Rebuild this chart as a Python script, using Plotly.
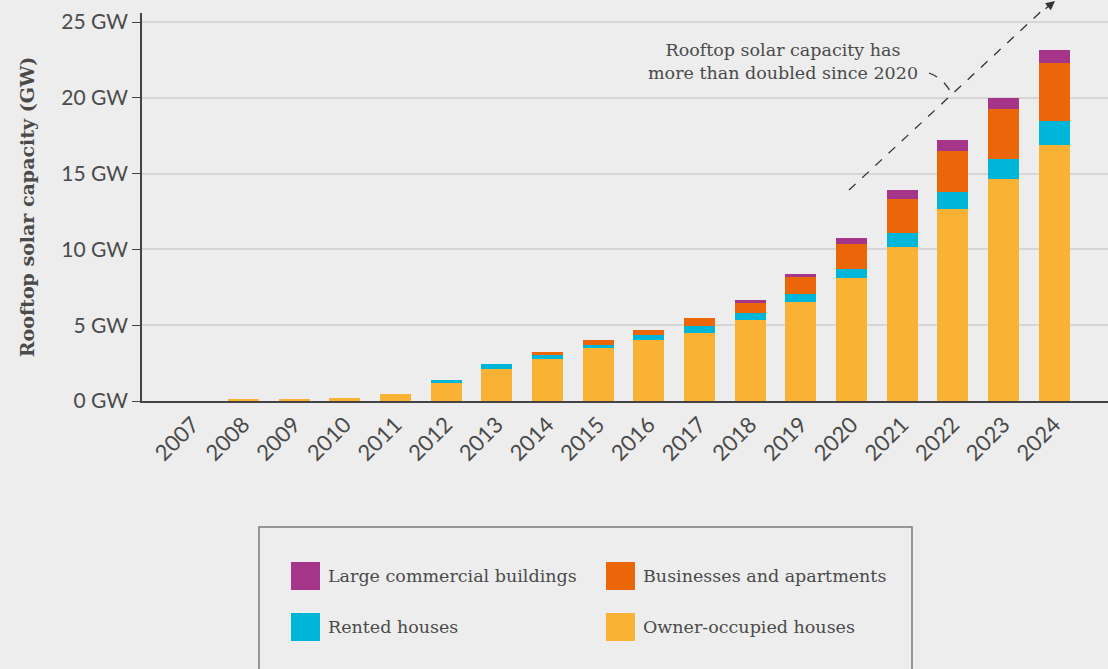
import plotly.graph_objects as go

years = [str(y) for y in range(2007, 2025)]
owner_occupied = [0.0, 0.07, 0.08, 0.20, 0.46, 1.19, 2.11, 2.77, 3.50, 4.02, 4.49, 5.34, 6.55, 8.11, 10.16, 12.66, 14.64, 16.89]
rented = [0, 0, 0, 0, 0, 0.20, 0.33, 0.33, 0.17, 0.31, 0.46, 0.46, 0.53, 0.60, 0.92, 1.15, 1.32, 1.58]
businesses = [0, 0, 0, 0, 0, 0, 0, 0.13, 0.35, 0.35, 0.52, 0.66, 1.10, 1.65, 2.24, 2.68, 3.30, 3.83]
large_commercial = [0, 0, 0, 0, 0, 0, 0, 0, 0, 0, 0, 0.20, 0.20, 0.39, 0.60, 0.73, 0.73, 0.85]

series_names = ["Owner-occupied houses", "Rented houses", "Businesses and apartments", "Large commercial buildings"]
series_values = [owner_occupied, rented, businesses, large_commercial]
series_colors = ["#F9B233", "#00B6D8", "#EB6608", "#A53589"]

y_ticks = [0, 5, 10, 15, 20, 25]
y_tick_labels = [f"{v} GW" for v in y_ticks]

annotation_text = "Rooftop solar capacity has<br>more than doubled since 2020"

BG = "#EDEDED"
TXT = "#4A4A4A"
SANS = "Lato, 'Open Sans', sans-serif"
SERIF = "'DejaVu Serif', serif"

# layout geometry (px)
W, H = 1108, 669
L, R, T, B = 142, 0, 13, 268
PW, PH = W - L - R, H - T - B


def px(x):
    return (x - L) / PW


def py(y):
    return (H - B - y) / PH


fig = go.Figure()
for name, vals, col in zip(series_names, series_values, series_colors):
    fig.add_trace(go.Bar(x=years, y=vals, name=name, marker=dict(color=col, line=dict(width=0)),
                         showlegend=False))

fig.update_layout(
    barmode="stack",
    bargap=0.39,
    width=W, height=H,
    margin=dict(l=L, r=R, t=T, b=B, pad=0),
    paper_bgcolor=BG, plot_bgcolor=BG,
    font=dict(family=SANS, color=TXT),
    xaxis=dict(type="category", range=[-1.0, 18.06], showgrid=False, showline=True,
               linecolor="#444444", linewidth=2, ticks="", tickangle=-45,
               tickfont=dict(family=SANS, size=22, color=TXT)),
    yaxis=dict(range=[0, 25.6], tickvals=y_ticks, ticktext=y_tick_labels,
               showgrid=True, gridcolor="#D6D6D6", gridwidth=1.5, zeroline=False,
               showline=True, linecolor="#444444", linewidth=1.5,
               ticks="outside", ticklen=8, tickcolor="#444444", tickwidth=1.2,
               tickfont=dict(family=SANS, size=21, color=TXT),
               title=dict(text="<b>Rooftop solar capacity (GW)</b>",
                          font=dict(family=SERIF, size=19, color=TXT), standoff=22)),
)

shapes = []
# dashed trend arrow
shapes.append(dict(type="line", xref="paper", yref="paper",
                   x0=px(849), y0=py(190), x1=px(1047), y1=py(6),
                   line=dict(color="#333333", width=1.3, dash="dash")))
# leader line from text to arrow
shapes.append(dict(type="path", xref="paper", yref="paper",
                   path=f"M {px(929)},{py(73)} Q {px(945)},{py(79)} {px(952)},{py(95)}",
                   line=dict(color="#333333", width=1.3, dash="dash")))

# legend box
shapes.append(dict(type="rect", xref="paper", yref="paper",
                   x0=px(259), x1=px(912), y0=py(527), y1=py(720),
                   line=dict(color="#7A7A7A", width=1.5), fillcolor="rgba(0,0,0,0)"))

legend_order = [3, 2, 1, 0]
legend_pos = [(291, 562), (606, 562), (291, 613), (606, 613)]
annotations = []
for idx, (lx, ly) in zip(legend_order, legend_pos):
    shapes.append(dict(type="rect", xref="paper", yref="paper",
                       x0=px(lx), x1=px(lx + 29), y0=py(ly), y1=py(ly + 28),
                       line=dict(width=0), fillcolor=series_colors[idx]))
    annotations.append(dict(xref="paper", yref="paper", x=px(lx + 35), y=py(ly + 14),
                            xanchor="left", yanchor="middle", showarrow=False,
                            text=series_names[idx],
                            font=dict(family=SERIF, size=17.5, color=TXT)))

annotations.append(dict(xref="paper", yref="paper", x=px(783), y=py(61),
                        xanchor="center", yanchor="middle", showarrow=False, align="center",
                        text=annotation_text,
                        font=dict(family=SERIF, size=17.5, color=TXT)))
# arrow head
annotations.append(dict(xref="paper", yref="paper", x=px(1055), y=py(0), ax=-11, ay=10,
                        text="", showarrow=True, arrowhead=2, arrowsize=1.4, arrowwidth=1.3,
                        arrowcolor="#333333"))

fig.update_layout(shapes=shapes, annotations=annotations)
fig.write_html(
    "out.html",
    config={"displayModeBar": False},
    post_script="document.body.style.margin='0px';document.body.style.background='#EDEDED';",
)
